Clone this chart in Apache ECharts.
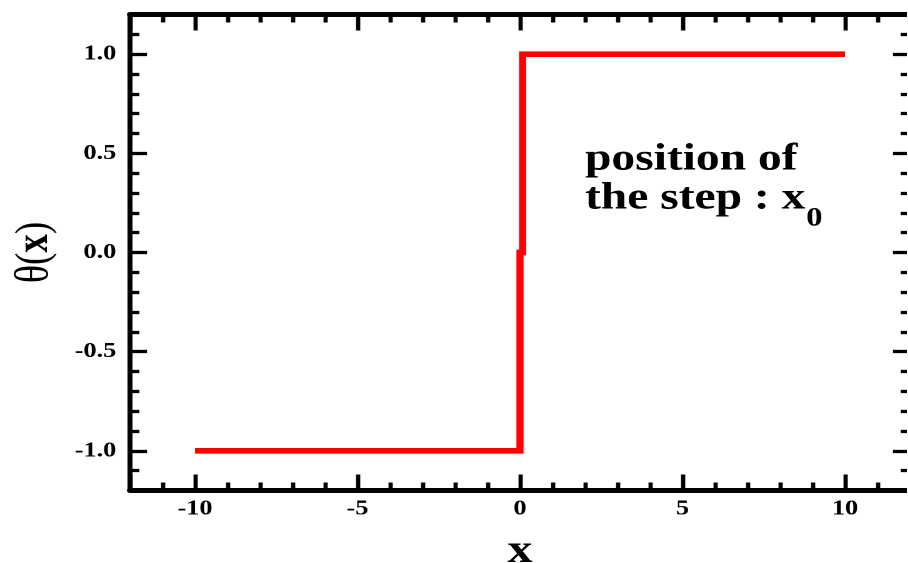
<!DOCTYPE html>
<html>
<head>
<meta charset="utf-8">
<title>Step function</title>
<script src="https://cdn.jsdelivr.net/npm/echarts@6/dist/echarts.min.js"></script>
<style>
  html, body { margin: 0; padding: 0; overflow: hidden; background: #fff; width: 908px; height: 563px; }
  /* the plot is laid out on a narrower canvas and widened horizontally */
  #chart { width: 726.4px; height: 563px; transform: scaleX(1.25); transform-origin: 0 0; }
</style>
</head>
<body>
<div id="chart"></div>
<script>
// Step function theta(x): -1 to the left of the step, +1 to the right
const stepX = [-10, 0, 0, 0.08, 0.08, 10];
const stepY = [-1, -1, 0, 0, 1, 1];

// axis extents and the ticks that carry labels
const xRange = [-12, 12];
const yRange = [-1.2, 1.2];
const xTickLabels = [-10, -5, 0, 5, 10];
const yTickLabels = [-1.0, -0.5, 0.0, 0.5, 1.0];

// annotation text
const noteLines = ['position of', 'the step : x'];
const noteSub = '0';

const SERIF = 'Liberation Serif';
const INK = '#000';

function xAxisDef(pos, showLabels) {
  return {
    type: 'value', position: pos, min: xRange[0], max: xRange[1], splitNumber: 5,
    splitLine: { show: false },
    axisLine: { show: true, onZero: false, lineStyle: { color: INK, width: 5 } },
    axisTick: { show: true, inside: true, length: 16, lineStyle: { color: INK, width: 3.4 } },
    minorTick: { show: true, splitNumber: 5, length: 8, lineStyle: { color: INK, width: 3.4 } },
    axisLabel: {
      show: showLabels, margin: 8, color: INK,
      fontFamily: SERIF, fontWeight: 'bold', fontSize: 21,
      formatter: v => (xTickLabels.includes(v) ? String(v) : '')
    },
    name: showLabels ? 'x' : '',
    nameLocation: 'middle', nameGap: 41,
    nameTextStyle: { fontFamily: SERIF, fontWeight: 'bold', fontSize: 40, color: INK }
  };
}

function yAxisDef(pos, showLabels) {
  return {
    type: 'value', position: pos, min: yRange[0], max: yRange[1], splitNumber: 5,
    splitLine: { show: false },
    axisLine: { show: true, onZero: false, lineStyle: { color: INK, width: 4 } },
    axisTick: { show: true, inside: true, length: 13.6, lineStyle: { color: INK, width: 3.3 } },
    minorTick: { show: true, splitNumber: 5, length: 7.5, lineStyle: { color: INK, width: 3.3 } },
    axisLabel: {
      show: showLabels, margin: 11, color: INK,
      fontFamily: SERIF, fontWeight: 'bold', fontSize: 21,
      formatter: v => (yTickLabels.includes(v) ? v.toFixed(1) : '')
    },
    name: showLabels ? '{t|θ}{p|(}{b|x}{p|)}' : '',
    nameLocation: 'middle', nameRotate: 90, nameGap: 57,
    nameTextStyle: {
      color: INK,
      rich: {
        t: { fontFamily: SERIF, fontSize: 38, color: INK },
        p: { fontFamily: SERIF, fontSize: 37, color: INK },
        b: { fontFamily: SERIF, fontSize: 37, fontWeight: 'bold', color: INK }
      }
    }
  };
}

const chart = echarts.init(document.getElementById('chart'), null, { renderer: 'canvas', devicePixelRatio: 2 });

chart.setOption({
  animation: false,
  backgroundColor: '#fff',
  grid: { left: 104, top: 14.5, width: 624, height: 476, containLabel: false, outerBoundsMode: 'none' },
  xAxis: [xAxisDef('bottom', true), xAxisDef('top', false)],
  yAxis: [yAxisDef('left', true), yAxisDef('right', false)],
  series: [{
    type: 'line',
    xAxisIndex: 0, yAxisIndex: 0,
    data: stepX.map((x, i) => [x, stepY[i]]),
    showSymbol: false, symbol: 'none', silent: true,
    lineStyle: { color: '#ff0000', width: 5.7, join: 'miter', cap: 'butt' }
  }],
  graphic: [
    {
      type: 'text', left: 468, top: 140,
      style: { text: noteLines.join('\n'), fill: INK, fontFamily: SERIF, fontWeight: 'bold', fontSize: 38, lineHeight: 39 }
    },
    {
      type: 'text', left: 645, top: 206,
      style: { text: noteSub, fill: INK, fontFamily: SERIF, fontWeight: 'bold', fontSize: 26 }
    }
  ]
});
</script>
</body>
</html>
